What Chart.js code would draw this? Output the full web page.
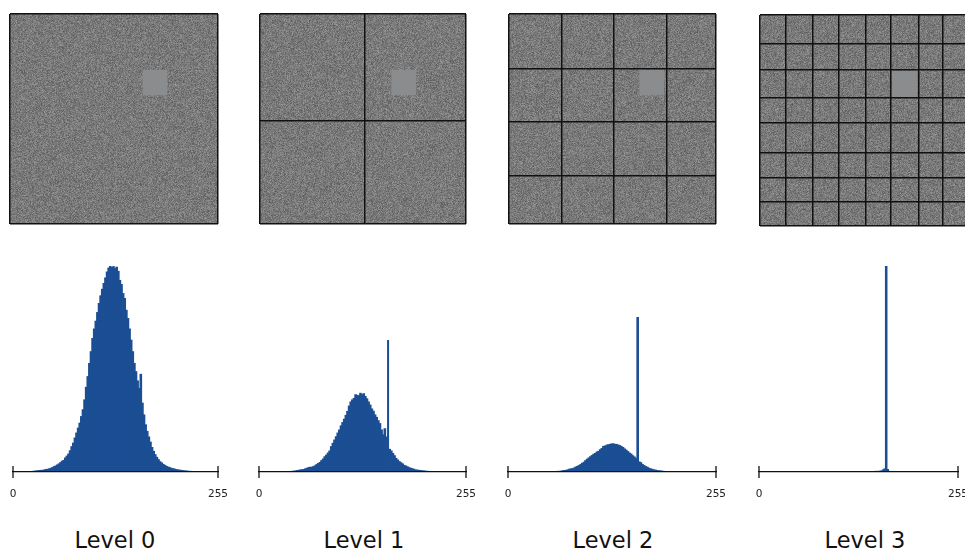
<!DOCTYPE html>
<html>
<head>
<meta charset="utf-8">
<script src="https://cdn.jsdelivr.net/npm/chart.js@4"></script>
<style>
  html, body { margin: 0; width: 965px; height: 550px; overflow: hidden; background: #fff; }
  canvas { position: absolute; filter: blur(0.35px); }
  .level { position: absolute; top: 527px; width: 160px; text-align: center; font: 22.5px "DejaVu Sans"; color: #111; }
</style>
</head>
<body>
<script>
// Pyramid levels
const levelNames = ["Level 0", "Level 1", "Level 2", "Level 3"];
const tickLabels = [0, 255];

// Split positions of each image, in image pixels (0-256)
const splitX0 = [];
const splitY0 = [];
const splitX1 = [130];
const splitY1 = [130];
const splitX2 = [65, 130, 195];
const splitY2 = [67, 131, 197];
const splitX3 = [31, 64, 96, 129, 160, 194, 224];
const splitY3 = [35, 67, 100, 131, 167, 197, 226];

// Bright square in each image: [x0, x1, y0, y1]
const patch0 = [163, 194, 68, 99];
const patch1 = [163, 194, 68, 99];
const patch2 = [161, 192, 68, 99];
const patch3 = [161, 193, 68, 100];

// Histogram heights, % of the tallest bar, one value per 2 grey levels
const hist0 = [
  0, 0, 0, 0, 0, 0, 0, 0, 0.1, 0.1, 0.2, 0.2, 0.3, 0.4, 0.5, 0.6,
  0.7, 0.8, 0.8, 1, 1.2, 1.3, 1.5, 1.8, 2.1, 2.6, 2.9, 3.4, 3.9, 4.5, 5.2, 5.6,
  6.8, 7.7, 8.7, 10.3, 12.3, 14, 16.5, 18.9, 21.3, 23.7, 26.9, 30.2, 35, 41.1, 46.3, 52.7,
  58.4, 64.8, 69.4, 73.2, 77.4, 81.8, 85.5, 88.7, 91.5, 94.2, 97.1, 99, 99.8, 99.2, 99.7, 98.7,
  99.4, 97.4, 93, 91, 86.6, 84.2, 78.5, 74.5, 69.4, 64, 58.4, 52.7, 48.7, 44.2, 40.6, 47.4,
  33.4, 27.7, 22.9, 19.7, 17, 14.5, 11.9, 10, 8.4, 7.1, 6, 5, 4.4, 3.7, 3.2, 2.7,
  2.4, 2.1, 1.8, 1.6, 1.4, 1.2, 1, 0.9, 0.8, 0.65, 0.55, 0.5, 0.4, 0.3, 0.3, 0.2,
  0.2, 0.1, 0.1, 0.1, 0, 0, 0, 0, 0, 0, 0, 0, 0, 0, 0, 0,
];
const hist1 = [
  0, 0, 0, 0, 0, 0, 0, 0, 0, 0, 0, 0, 0, 0, 0, 0,
  0, 0, 0, 0, 0.3, 0.4, 0.5, 0.7, 0.8, 1, 1.1, 1.2, 1.5, 1.8, 2.1, 2.3,
  2.3, 2.6, 3, 3.6, 4.1, 4.6, 5.5, 6.3, 7.4, 8.2, 9.2, 10.2, 12.3, 13.9, 15.5, 17.1,
  18.9, 20.4, 22.4, 24, 25.6, 27.5, 29.4, 32, 34, 35, 35.7, 37.5, 37.2, 37, 38.2, 37.5,
  38, 36.7, 35.5, 34, 32.5, 30.6, 29.5, 27.7, 26.5, 24.9, 23.5, 20.4, 18, 21, 17, 64,
  11, 10.2, 9, 7.9, 6.6, 5.8, 5, 4.5, 3.9, 3.2, 2.9, 2.5, 2.1, 1.8, 1.6, 1.3,
  1, 0.9, 0.8, 0.7, 0.6, 0.5, 0.4, 0.3, 0.3, 0.2, 0.2, 0.1, 0, 0, 0, 0,
  0, 0, 0, 0, 0, 0, 0, 0, 0, 0, 0, 0, 0, 0, 0, 0,
];
const hist2 = [
  0, 0, 0, 0, 0, 0, 0, 0, 0, 0, 0, 0, 0, 0, 0, 0,
  0, 0, 0, 0, 0, 0, 0, 0, 0, 0, 0, 0, 0, 0, 0.3, 0.3,
  0.4, 0.6, 0.7, 0.8, 1, 1.3, 1.5, 1.6, 1.9, 2.4, 2.7, 3.1, 3.6, 4.2, 4.7, 5.5,
  6.2, 6.8, 7.4, 8, 8.6, 9, 9.7, 10, 10.8, 11.4, 12.4, 12.6, 13, 13.2, 13.4, 13.6,
  13.7, 13.4, 13.4, 13.1, 12.8, 12.4, 11.9, 11.2, 10.6, 9.9, 9.2, 8.7, 7.9, 7.3, 6.5, 75,
  4.9, 4.5, 3.6, 3.1, 2.6, 2.3, 1.8, 1.5, 1.3, 1, 0.9, 0.7, 0.6, 0.5, 0.4, 0.3,
  0.2, 0.1, 0.1, 0, 0, 0, 0, 0, 0, 0, 0, 0, 0, 0, 0, 0,
  0, 0, 0, 0, 0, 0, 0, 0, 0, 0, 0, 0, 0, 0, 0, 0,
];
const hist3 = [
  0, 0, 0, 0, 0, 0, 0, 0, 0, 0, 0, 0, 0, 0, 0, 0,
  0, 0, 0, 0, 0, 0, 0, 0, 0, 0, 0, 0, 0, 0, 0, 0,
  0, 0, 0, 0, 0, 0, 0, 0, 0, 0, 0, 0, 0, 0, 0, 0,
  0, 0, 0, 0, 0, 0, 0, 0, 0, 0, 0, 0, 0.2, 0, 0.2, 0,
  0.2, 0, 0.2, 0.2, 0, 0.2, 0.2, 0.2, 0.2, 0.2, 0.3, 0.3, 0.3, 0.4, 0.5, 1,
  1.5, 100, 1.2, 0.3, 0, 0, 0, 0, 0, 0, 0, 0, 0, 0, 0, 0,
  0, 0, 0, 0, 0, 0, 0, 0, 0, 0, 0, 0, 0, 0, 0, 0,
  0, 0, 0, 0, 0, 0, 0, 0, 0, 0, 0, 0, 0, 0, 0, 0,
];

const BLUE = "#1b4e93";
const LINE = "#111111";

function addCanvas(left, top, width, height) {
  const canvas = document.createElement("canvas");
  canvas.width = width;
  canvas.height = height;
  canvas.style.left = left + "px";
  canvas.style.top = top + "px";
  document.body.appendChild(canvas);
  return canvas;
}

// Grainy background of the images, only a texture and not chart data
const grain = {
  id: "grain",
  beforeDraw(chart) {
    const area = chart.chartArea;
    const w = Math.ceil(area.width);
    const h = Math.ceil(area.height);
    const tile = document.createElement("canvas");
    tile.width = w;
    tile.height = h;
    const tileCtx = tile.getContext("2d");
    const img = tileCtx.createImageData(w, h);
    let s = 2463534242 + w;
    const next = () => {
      s ^= s << 13;
      s ^= s >>> 17;
      s ^= s << 5;
      return s & 255;
    };
    for (let i = 0; i < w * h; i++) {
      const v = 88 + (next() + next()) * 0.13;
      img.data[i * 4] = v;
      img.data[i * 4 + 1] = v;
      img.data[i * 4 + 2] = v;
      img.data[i * 4 + 3] = 255;
    }
    tileCtx.putImageData(img, 0, 0);
    const ctx = chart.ctx;
    ctx.save();
    ctx.beginPath();
    ctx.rect(area.left, area.top, area.width, area.height);
    ctx.clip();
    ctx.fillStyle = "#7a7a7a";
    ctx.fillRect(area.left, area.top, area.width, area.height);
    ctx.filter = "blur(0.5px)";
    ctx.drawImage(tile, area.left, area.top);
    ctx.restore();
  },
};

// End ticks of the histogram axis cross the axis line
const crossTicks = {
  id: "crossTicks",
  afterDraw(chart) {
    const ctx = chart.ctx;
    const y = chart.chartArea.bottom;
    ctx.save();
    ctx.strokeStyle = LINE;
    ctx.lineWidth = 1.3;
    tickLabels.forEach((v) => {
      const x = chart.scales.x.getPixelForValue(v);
      ctx.beginPath();
      ctx.moveTo(x, y - 6);
      ctx.lineTo(x, y + 6);
      ctx.stroke();
    });
    ctx.restore();
  },
};

function drawImagePanel(left, top, width, height, splitX, splitY, patch) {
  const canvas = addCanvas(left - 1, top - 1, width + 2, height + 2);
  const gridAxis = (splits, reverse) => ({
    type: "linear",
    min: 0,
    max: 256,
    reverse: reverse,
    afterBuildTicks(scale) {
      scale.ticks = [0, ...splits, 256].map((v) => ({ value: v }));
    },
    ticks: { display: false },
    border: { display: false },
    grid: { color: LINE, lineWidth: 1.5, drawTicks: false, z: 1 },
  });
  new Chart(canvas, {
    type: "scatter",
    data: {
      datasets: [
        {
          data: [
            { x: patch[0], y: patch[2] },
            { x: patch[1], y: patch[2] },
          ],
          showLine: true,
          borderWidth: 0,
          pointRadius: 0,
          backgroundColor: "#8b8c8d",
          fill: { value: patch[3] },
        },
      ],
    },
    options: {
      responsive: false,
      animation: false,
      layout: { padding: 1 },
      plugins: { legend: { display: false }, tooltip: { enabled: false } },
      scales: { x: gridAxis(splitX, false), y: gridAxis(splitY, true) },
    },
    plugins: [grain],
  });
}

function drawHistogram(left, width, values, thinBar) {
  const pad = 24;
  const canvas = addCanvas(left - pad, 255, width + pad * 2, 245);
  new Chart(canvas, {
    type: "bar",
    data: {
      datasets: [
        {
          data: values.map((v, i) => ({ x: i * 2 + 1, y: v })),
          backgroundColor: BLUE,
          categoryPercentage: 1,
          barPercentage: 1,
          // a little overlap hides the seams between the narrow bars
          inflateAmount: (ctx) => (ctx.dataIndex === thinBar ? 0.2 : 0.5),
        },
      ],
    },
    options: {
      responsive: false,
      animation: false,
      layout: { padding: { left: pad, right: pad, top: 11, bottom: 0 } },
      plugins: { legend: { display: false }, tooltip: { enabled: false } },
      scales: {
        x: {
          type: "linear",
          offset: false,
          min: tickLabels[0],
          max: tickLabels[1],
          afterBuildTicks(scale) {
            scale.ticks = tickLabels.map((v) => ({ value: v }));
          },
          afterFit(scale) {
            scale.height = 28;
          },
          ticks: {
            autoSkip: false,
            maxRotation: 0,
            padding: 8,
            color: "#222222",
            font: { family: "DejaVu Sans", size: 10.5 },
          },
          border: { display: true, color: LINE, width: 1.3, z: 1 },
          grid: { display: false, offset: false },
        },
        y: { display: false, min: 0, max: 100 },
      },
    },
    plugins: [crossTicks],
  });
}

drawImagePanel(10, 14, 208, 210, splitX0, splitY0, patch0);
drawImagePanel(260, 14, 206, 210, splitX1, splitY1, patch1);
drawImagePanel(509, 14, 207, 210, splitX2, splitY2, patch2);
drawImagePanel(760, 15, 209, 211, splitX3, splitY3, patch3);

drawHistogram(13, 205, hist0, -1);
drawHistogram(259, 207, hist1, 79);
drawHistogram(508, 208, hist2, -1);
drawHistogram(759, 199, hist3, -1);

const labelCenters = [115, 364, 613, 865];
levelNames.forEach((name, i) => {
  const div = document.createElement("div");
  div.className = "level";
  div.style.left = labelCenters[i] - 80 + "px";
  div.textContent = name;
  document.body.appendChild(div);
});
</script>
</body>
</html>
